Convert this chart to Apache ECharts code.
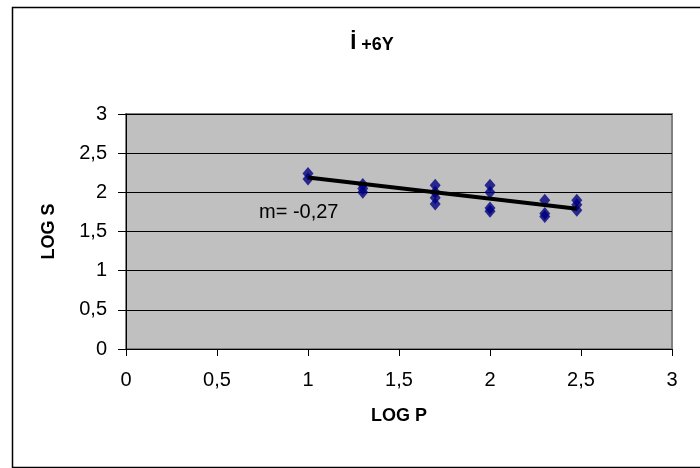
<!DOCTYPE html>
<html>
<head>
<meta charset="utf-8">
<script src="https://cdn.jsdelivr.net/npm/echarts@6/dist/echarts.min.js"></script>
<style>
  html, body { margin: 0; padding: 0; background: #fff; }
  #chart { width: 700px; height: 468px; }
</style>
</head>
<body>
<div id="chart"></div>
<script>
// log10 of P for each group of measurements
const logP = [1, 1.301, 1.699, 2, 2.301, 2.477];
// log10 of S measured in each group
const logS = [
  [2.24, 2.17],
  [2.1, 2.05, 2.0],
  [2.09, 2.0, 1.93, 1.85],
  [2.09, 2.0, 1.8, 1.76],
  [1.9, 1.73, 1.69],
  [1.9, 1.84, 1.77]
];
// fitted line: LOG S = intercept + slope * LOG P
const slope = -0.27;
const intercept = 2.46;
const slopeLabel = 'm= -0,27';
const titleHead = 'İ';
const titleTail = ' +6Y';
const xName = 'LOG P';
const yName = 'LOG S';

const points = [];
logP.forEach((x, i) => logS[i].forEach(y => points.push([x, y])));
const xFirst = logP[0], xLast = logP[logP.length - 1];
const trend = [[xFirst, intercept + slope * xFirst], [xLast, intercept + slope * xLast]];

const commaFmt = v => String(v).replace('.', ',');
const font = '"Liberation Sans", Arial, sans-serif';

const chart = echarts.init(document.getElementById('chart'), null, { renderer: 'canvas' });
chart.setOption({
  animation: false,
  backgroundColor: '#ffffff',
  title: {
    text: '{a|' + titleHead + '}{b|' + titleTail + '}',
    left: 367, top: 27, textAlign: 'center',
    textStyle: {
      rich: {
        a: { fontFamily: font, fontSize: 22, color: '#000', verticalAlign: 'bottom' },
        b: { fontFamily: font, fontSize: 18, fontWeight: 'bold', color: '#000', verticalAlign: 'bottom' }
      }
    }
  },
  grid: { left: 126, top: 114, right: 28, bottom: 119, show: true, backgroundColor: '#c0c0c0', borderColor: '#808080', borderWidth: 2 },
  xAxis: {
    type: 'value', min: 0, max: 3, interval: 0.5,
    name: xName, nameLocation: 'middle', nameGap: 58, nameMoveOverlap: false,
    nameTextStyle: { fontFamily: font, fontSize: 18, fontWeight: 'bold', color: '#000' },
    axisLine: { show: true, onZero: false, lineStyle: { color: '#000', width: 1 } },
    axisTick: { show: true, length: 7, lineStyle: { color: '#000' } },
    axisLabel: { fontFamily: font, fontSize: 20, color: '#000', margin: 21, formatter: commaFmt },
    splitLine: { show: false }
  },
  yAxis: {
    type: 'value', min: 0, max: 3, interval: 0.5,
    name: yName, nameLocation: 'middle', nameGap: 68, nameRotate: 90, nameMoveOverlap: false,
    nameTextStyle: { fontFamily: font, fontSize: 18, fontWeight: 'bold', color: '#000' },
    axisLine: { show: true, onZero: false, lineStyle: { color: '#000', width: 1 } },
    axisTick: { show: true, length: 8, lineStyle: { color: '#000' } },
    axisLabel: { fontFamily: font, fontSize: 20, color: '#000', margin: 19, formatter: commaFmt },
    splitLine: { show: true, lineStyle: { color: '#000', width: 1 } }
  },
  series: [
    {
      type: 'scatter', data: points,
      symbol: 'diamond', symbolSize: [11, 13],
      itemStyle: { color: '#000080' }, z: 3
    },
    {
      type: 'line', data: trend, symbol: 'none',
      lineStyle: { color: '#000', width: 4 }, z: 4
    }
  ],
  graphic: [
    {
      type: 'rect', left: 10, top: 5, z: -10, silent: true,
      shape: { width: 720, height: 460 },
      style: { fill: 'none', stroke: '#000', lineWidth: 1.5 }
    },
    {
      type: 'text', left: 259, top: 202,
      style: { text: slopeLabel, font: '20px ' + font, fill: '#000' }
    }
  ]
});
</script>
</body>
</html>
